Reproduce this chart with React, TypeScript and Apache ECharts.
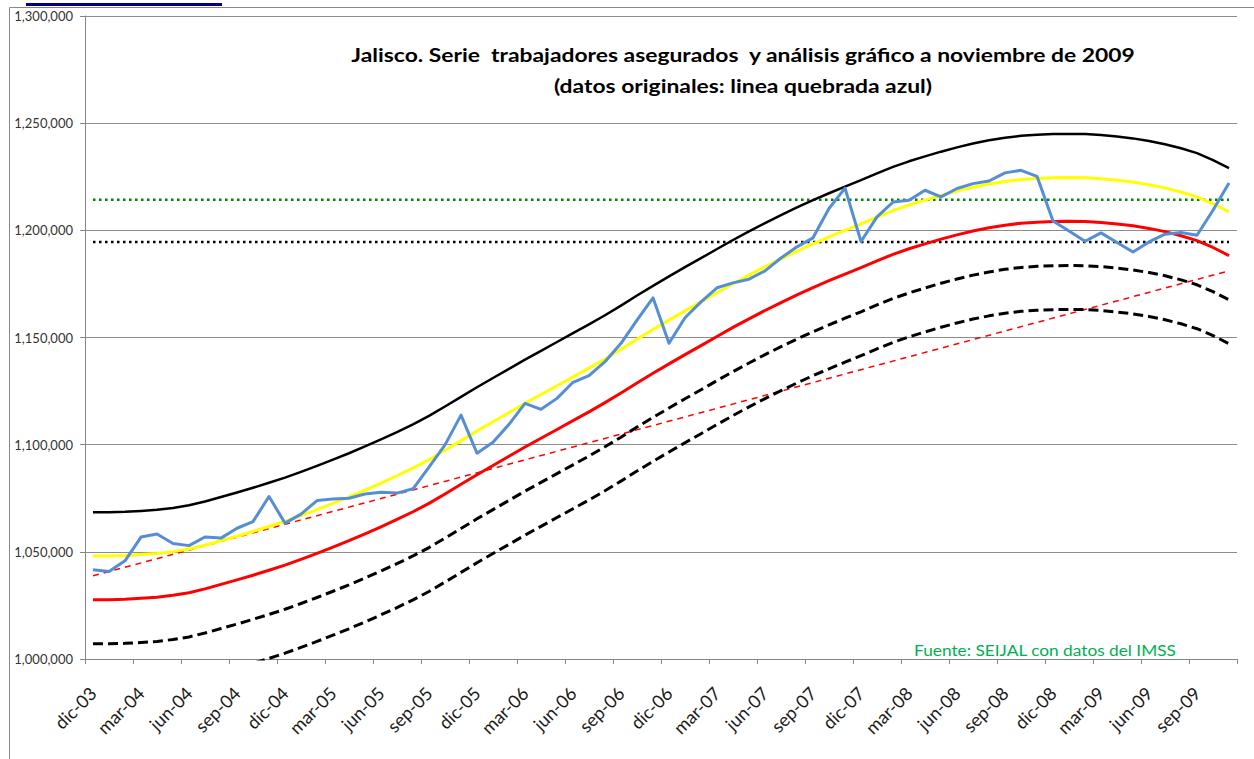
import React, { useEffect, useRef } from "react";
import * as echarts from "echarts";

const monthNames = ["ene", "feb", "mar", "abr", "may", "jun", "jul", "ago", "sep", "oct", "nov", "dic"];
const categories: string[] = ["dic-03"];
for (let y = 4; y <= 9; y++) {
  for (let m = 0; m < 12; m++) {
    if (y === 9 && m === 11) break;
    categories.push(monthNames[m] + "-0" + y);
  }
}

const yTicks = { min: 1000000, max: 1300000, interval: 50000 };

// Original data (blue broken line)
const asegurados = [
  1041600, 1040800, 1045800, 1056900, 1058300, 1053900, 1052900, 1056900, 1056400, 1061000, 1064100, 1075800,
  1063400, 1067600, 1073900, 1074600, 1075000, 1077000, 1077800, 1077400, 1079400, 1089500, 1099900, 1113800,
  1096000, 1101100, 1109500, 1119300, 1116500, 1121600, 1129100, 1132200, 1138700, 1147300, 1158100, 1168500,
  1147300, 1159200, 1166600, 1173200, 1175500, 1177200, 1181100, 1187100, 1192300, 1196500, 1210200, 1219700,
  1194800, 1206300, 1213200, 1214000, 1218700, 1215600, 1219500, 1221800, 1223000, 1226800, 1228000, 1225200,
  1204400, 1199700, 1194900, 1198800, 1194300, 1189900, 1194600, 1198200, 1199000, 1197700, 1209400, 1222100,
];

// Yellow trend
const tendencia = [
  1048100, 1048100, 1048300, 1048700, 1049200, 1050100, 1051300, 1053100, 1055200, 1057300, 1059500, 1061800,
  1064200, 1066900, 1069700, 1072600, 1075600, 1078800, 1082100, 1085500, 1089100, 1093000, 1097400, 1101900,
  1106400, 1110700, 1115000, 1119300, 1123400, 1127500, 1131600, 1135700, 1140000, 1144500, 1149200, 1153700,
  1158100, 1162400, 1166600, 1170900, 1175100, 1179100, 1183000, 1186700, 1190300, 1193700, 1196900, 1200000,
  1203000, 1206200, 1209200, 1211800, 1214100, 1216300, 1218300, 1220100, 1221600, 1222800, 1223700, 1224200,
  1224500, 1224600, 1224500, 1224100, 1223400, 1222500, 1221300, 1219800, 1217900, 1215600, 1212400, 1208600,
];

// Black solid upper band
const bandaSuperior = [
  1068500, 1068500, 1068700, 1069100, 1069600, 1070500, 1071700, 1073500, 1075600, 1077700, 1079900, 1082200,
  1084600, 1087300, 1090100, 1093000, 1096000, 1099200, 1102500, 1105900, 1109500, 1113400, 1117800, 1122300,
  1126800, 1131100, 1135400, 1139700, 1143800, 1147900, 1152000, 1156100, 1160400, 1164900, 1169600, 1174100,
  1178500, 1182800, 1187000, 1191300, 1195500, 1199500, 1203400, 1207100, 1210700, 1214100, 1217300, 1220400,
  1223400, 1226600, 1229600, 1232200, 1234500, 1236700, 1238700, 1240500, 1242000, 1243200, 1244100, 1244600,
  1244900, 1245000, 1244900, 1244500, 1243800, 1242900, 1241700, 1240200, 1238300, 1236000, 1232800, 1229000,
];

// Red solid lower band
const bandaInferior1 = [
  1027700, 1027700, 1027900, 1028300, 1028800, 1029700, 1030900, 1032700, 1034800, 1036900, 1039100, 1041400,
  1043800, 1046500, 1049300, 1052200, 1055200, 1058400, 1061700, 1065100, 1068700, 1072600, 1077000, 1081500,
  1086000, 1090300, 1094600, 1098900, 1103000, 1107100, 1111200, 1115300, 1119600, 1124100, 1128800, 1133300,
  1137700, 1142000, 1146200, 1150500, 1154700, 1158700, 1162600, 1166300, 1169900, 1173300, 1176500, 1179600,
  1182600, 1185800, 1188800, 1191400, 1193700, 1195900, 1197900, 1199700, 1201200, 1202400, 1203300, 1203800,
  1204100, 1204200, 1204100, 1203700, 1203000, 1202100, 1200900, 1199400, 1197500, 1195200, 1192000, 1188200,
];

// Black dashed bands
const bandaInferior2 = [
  1007100, 1007100, 1007300, 1007700, 1008200, 1009100, 1010300, 1012100, 1014200, 1016300, 1018500, 1020800,
  1023200, 1025900, 1028700, 1031600, 1034600, 1037800, 1041100, 1044500, 1048100, 1052000, 1056400, 1060900,
  1065400, 1069700, 1074000, 1078300, 1082400, 1086500, 1090600, 1094700, 1099000, 1103500, 1108200, 1112700,
  1117100, 1121400, 1125600, 1129900, 1134100, 1138100, 1142000, 1145700, 1149300, 1152700, 1155900, 1159000,
  1162000, 1165200, 1168200, 1170800, 1173100, 1175300, 1177300, 1179100, 1180600, 1181800, 1182700, 1183200,
  1183500, 1183600, 1183500, 1183100, 1182400, 1181500, 1180300, 1178800, 1176900, 1174600, 1171400, 1167600,
];

const bandaInferior3 = [
  986600, 986600, 986800, 987200, 987700, 988600, 989800, 991600, 993700, 995800, 998000, 1000300,
  1002700, 1005400, 1008200, 1011100, 1014100, 1017300, 1020600, 1024000, 1027600, 1031500, 1035900, 1040400,
  1044900, 1049200, 1053500, 1057800, 1061900, 1066000, 1070100, 1074200, 1078500, 1083000, 1087700, 1092200,
  1096600, 1100900, 1105100, 1109400, 1113600, 1117600, 1121500, 1125200, 1128800, 1132200, 1135400, 1138500,
  1141500, 1144700, 1147700, 1150300, 1152600, 1154800, 1156800, 1158600, 1160100, 1161300, 1162200, 1162700,
  1163000, 1163100, 1163000, 1162600, 1161900, 1161000, 1159800, 1158300, 1156400, 1154100, 1150900, 1147100,
];

// Red dashed linear trend: start and end values
const tendenciaLinealInicio = 1038800;
const tendenciaLinealFin = 1181100;

// Horizontal dotted reference levels
const nivelVerde = 1214300;
const nivelNegro = 1194600;

function endpointsSeries(a: number, b: number) {
  return categories.map((_, i) => (i === 0 ? a : i === categories.length - 1 ? b : null));
}

export default function App() {
  const ref = useRef<HTMLDivElement>(null);
  useEffect(() => {
    if (!ref.current) return;
    const chart = echarts.init(ref.current, null, { renderer: "svg" });
    const font = "Lato, 'Open Sans', sans-serif";
    const lineSeries = (name: string, data: any[], color: string, width: number, type: any, z: number, extra: any = {}) => ({
      name,
      type: "line",
      data,
      symbol: "none",
      smooth: false,
      clip: true,
      z,
      lineStyle: { color, width, type, cap: "butt", join: "round" },
      ...extra,
    });
    chart.setOption({
      animation: false,
      backgroundColor: "#ffffff",
      grid: { left: 85, right: 17, top: 16, bottom: 100, containLabel: false },
      xAxis: {
        type: "category",
        data: categories,
        boundaryGap: true,
        axisLine: { lineStyle: { color: "#868686", width: 1 } },
        axisTick: { show: true, interval: 2, length: 5, inside: false, lineStyle: { color: "#868686" } },
        axisLabel: {
          interval: 2,
          rotate: 45,
          margin: 31,
          fontSize: 18,
          fontFamily: font,
          color: "#1a1a1a",
        },
        splitLine: { show: false },
      },
      yAxis: {
        type: "value",
        min: yTicks.min,
        max: yTicks.max,
        interval: yTicks.interval,
        axisLine: { show: true, lineStyle: { color: "#868686", width: 1 } },
        axisTick: { show: true, length: 5, lineStyle: { color: "#868686" } },
        axisLabel: {
          margin: 12,
          fontSize: 13,
          fontFamily: font,
          color: "#333333",
          formatter: (v: number) => v.toLocaleString("en-US"),
        },
        splitLine: { show: true, lineStyle: { color: "#8c8c8c", width: 1 } },
      },
      series: [
        lineSeries("Tendencia lineal", endpointsSeries(tendenciaLinealInicio, tendenciaLinealFin), "#ff0000", 1.5, [6, 5], 2, { connectNulls: true }),
        lineSeries("Nivel verde", endpointsSeries(nivelVerde, nivelVerde), "#008000", 2.5, [2.5, 3.5], 2, { connectNulls: true }),
        lineSeries("Nivel negro", endpointsSeries(nivelNegro, nivelNegro), "#000000", 2.5, [2.5, 3.5], 2, { connectNulls: true }),
        lineSeries("-3", bandaInferior3, "#000000", 3, [10, 5], 3),
        lineSeries("-2", bandaInferior2, "#000000", 3, [10, 5], 3),
        lineSeries("-1", bandaInferior1, "#ff0000", 3, "solid", 4),
        lineSeries("+1", bandaSuperior, "#000000", 2.5, "solid", 4),
        lineSeries("Tendencia", tendencia, "#ffff00", 3, "solid", 5),
        lineSeries("Asegurados", asegurados, "#558ed5", 3, "solid", 6),
      ],
      graphic: [
        {
          type: "rect",
          shape: { x: 9.5, y: 7.5, width: 1400, height: 900 },
          style: { fill: "none", stroke: "#8a8a8a", lineWidth: 1 },
          silent: true,
          z: 0,
        },
        {
          type: "rect",
          shape: { x: 26, y: 3, width: 196, height: 3 },
          style: { fill: "#000080" },
          silent: true,
        },
        {
          type: "text",
          x: 743,
          y: 55,
          scaleX: 1.27,
          style: {
            text: "Jalisco. Serie  trabajadores asegurados  y análisis gráfico a noviembre de 2009",
            font: "bold 18px " + font,
            fill: "#000000",
            align: "center",
            verticalAlign: "middle",
          },
          z: 10,
        },
        {
          type: "text",
          x: 743,
          y: 86,
          scaleX: 1.27,
          style: {
            text: "(datos originales: linea quebrada azul)",
            font: "bold 18px " + font,
            fill: "#000000",
            align: "center",
            verticalAlign: "middle",
          },
          z: 10,
        },
        {
          type: "text",
          x: 1045,
          y: 650,
          scaleX: 1.08,
          style: {
            text: "Fuente: SEIJAL con datos del IMSS",
            font: "16px " + font,
            fill: "#00b050",
            align: "center",
            verticalAlign: "middle",
          },
          z: 10,
        },
      ],
    });
    return () => chart.dispose();
  }, []);
  return <div ref={ref} style={{ position: "fixed", left: 0, top: 0, width: 1254, height: 759 }} />;
}
